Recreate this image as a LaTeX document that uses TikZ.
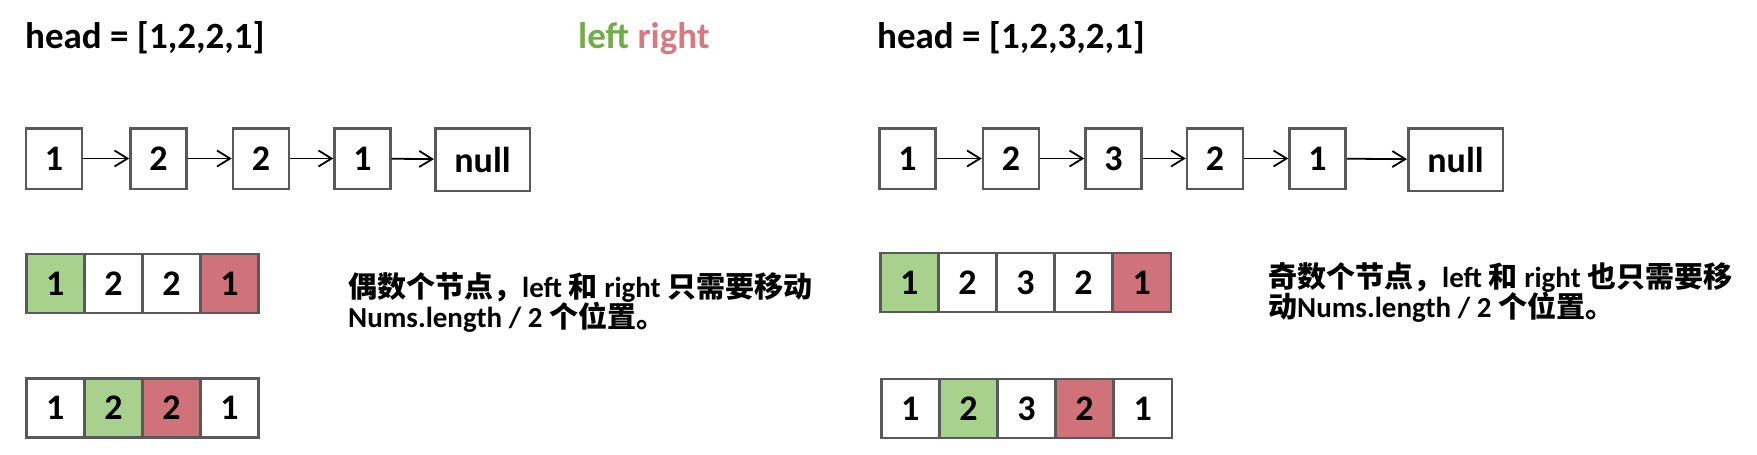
\documentclass[tikz,border=0pt]{standalone}
\usepackage{fontspec}
\setmainfont{Carlito}
\newfontfamily\cjk{Noto Sans CJK SC}
\usetikzlibrary{arrows.meta}
\definecolor{bordergray}{RGB}{89,89,89}
\definecolor{cellgreen}{RGB}{169,209,142}
\definecolor{cellred}{RGB}{207,114,121}
\definecolor{txtgreen}{RGB}{112,173,71}
\definecolor{txtred}{RGB}{214,122,130}
\begin{document}
\begin{tikzpicture}[x=1pt,y=-1pt,
  lbox/.style={draw=bordergray, line width=2.5pt, fill=white, minimum width=56pt, minimum height=60.5pt, inner sep=0pt, font=\fontsize{36}{40}\selectfont\bfseries},
  nullbox/.style={lbox, minimum width=94.5pt, minimum height=62.5pt},
  cell/.style={draw=bordergray, line width=2.5pt, minimum width=58.1pt, minimum height=59pt, inner sep=0pt, font=\fontsize{36}{40}\selectfont\bfseries},
  gcell/.style={cell, fill=cellgreen},
  rcell/.style={cell, fill=cellred},
  wcell/.style={cell, fill=white},
  link/.style={-{Straight Barb[length=13pt,width=16pt]}, line width=1.8pt, black},
  title/.style={anchor=base west, inner sep=0pt, font=\fontsize{37}{40}\selectfont\bfseries},
  desc/.style={anchor=base west, inner sep=0pt, font=\fontsize{29}{32}\selectfont\bfseries}
]
\useasboundingbox (0,0) rectangle (1757,455);

% titles
\node[title] (headL) at (25,48) {head = [1,2,2,1]};
\node[title] (lr) at (578,48) {\textcolor{txtgreen}{left} \textcolor{txtred}{right}};
\node[title] (headR) at (877,48) {head = [1,2,3,2,1]};

% left linked list
\node[lbox] (a1) at (54,158.5) {1};
\node[lbox] (a2) at (158.5,158.5) {2};
\node[lbox] (a3) at (261,158.5) {2};
\node[lbox] (a4) at (362.5,158.5) {1};
\node[nullbox] (an) at (482.5,159.5) {null};
\draw[link] (a1) -- (a2);
\draw[link] (a2) -- (a3);
\draw[link] (a3) -- (a4);
\draw[link] (a4) -- (an);

% right linked list
\node[lbox] (b1) at (907.5,158.5) {1};
\node[lbox] (b2) at (1011,158.5) {2};
\node[lbox] (b3) at (1113.5,158.5) {3};
\node[lbox] (b4) at (1215,158.5) {2};
\node[lbox] (b5) at (1317.5,158.5) {1};
\node[nullbox] (bn) at (1455.5,159.5) {null};
\draw[link] (b1) -- (b2);
\draw[link] (b2) -- (b3);
\draw[link] (b3) -- (b4);
\draw[link] (b4) -- (b5);
\draw[link] (b5) -- (bn);

% left arrays
\node[gcell] (c1) at (55.3,283.5) {1};
\node[wcell] (c2) at (113.4,283.5) {2};
\node[wcell] (c3) at (171.5,283.5) {2};
\node[rcell] (c4) at (229.6,283.5) {1};

\node[wcell] (d1) at (55.3,408) {1};
\node[gcell] (d2) at (113.4,408) {2};
\node[rcell] (d3) at (171.5,408) {2};
\node[wcell] (d4) at (229.6,408) {1};

% right arrays
\node[gcell] (e1) at (909.3,282.5) {1};
\node[wcell] (e2) at (967.4,282.5) {2};
\node[wcell] (e3) at (1025.5,282.5) {3};
\node[wcell] (e4) at (1083.6,282.5) {2};
\node[rcell] (e5) at (1141.7,282.5) {1};

\node[wcell] (f1) at (910.3,408.5) {1};
\node[gcell] (f2) at (968.4,408.5) {2};
\node[wcell] (f3) at (1026.5,408.5) {3};
\node[rcell] (f4) at (1084.6,408.5) {2};
\node[wcell] (f5) at (1142.7,408.5) {1};

% descriptions
\node[desc] (dl1) at (348,297) {{\cjk 偶数个节点，}left {\cjk 和} right {\cjk 只需要移动}};
\node[desc] (dl2) at (348,327) {Nums.length / 2 {\cjk 个位置。}};
\node[desc] (dr1) at (1268,287) {{\cjk 奇数个节点，}left {\cjk 和} right {\cjk 也只需要移}};
\node[desc] (dr2) at (1268,317) {{\cjk 动}Nums.length / 2 {\cjk 个位置。}};
\end{tikzpicture}
\end{document}
